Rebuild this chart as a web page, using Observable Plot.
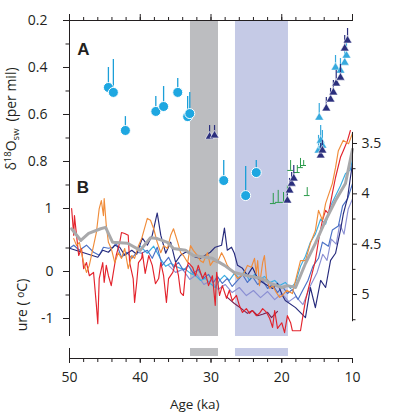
<!DOCTYPE html>
<html><head><meta charset="utf-8">
<script src="https://cdn.jsdelivr.net/npm/d3@7"></script>
<script src="https://cdn.jsdelivr.net/npm/@observablehq/plot@0.6"></script>
<style>body{margin:0;background:#fff}</style>
</head><body><div id="chart"></div>
<script>
// ---------- Panel A: δ18Osw (per mil) ----------
const circleAge = [44.5, 43.8, 42.1, 37.8, 36.7, 34.7, 33.3, 33.0, 28.2, 25.1, 23.6];
const circleVal = [0.485, 0.506, 0.668, 0.587, 0.566, 0.506, 0.609, 0.596, 0.881, 0.945, 0.847];
const circleTop = [0.40, 0.366, 0.609, 0.523, 0.481, 0.447, 0.523, 0.506, 0.796, 0.821, 0.796];

const navyTriAge = [30.2, 29.5, 19.2, 18.9, 18.6, 18.3, 14.5, 14.25, 13.7, 13.1, 12.7, 12.3, 11.7, 11.1, 10.7];
const navyTriVal = [0.694, 0.689, 0.966, 0.923, 0.894, 0.872, 0.774, 0.753, 0.574, 0.536, 0.506, 0.468, 0.443, 0.319, 0.285];
const navyTriTop = [0.647, 0.647, 0.923, 0.872, 0.847, 0.817, 0.723, 0.711, 0.528, 0.489, 0.455, 0.413, 0.387, 0.264, 0.234];

const cyanTriAge = [14.8, 14.7, 14.5, 14.25, 12.4, 11.7, 11.1, 10.85];
const cyanTriVal = [0.753, 0.613, 0.711, 0.732, 0.40, 0.413, 0.379, 0.349];
const cyanTriTop = [0.689, 0.553, 0.647, 0.668, 0.349, 0.362, 0.319, 0.294];

const greenAge = [21.2, 20.5, 19.75, 19.2, 18.75, 17.8, 17.35, 16.9, 16.4];
const greenVal = [0.979, 0.974, 0.974, 0.966, 0.838, 0.847, 0.826, 0.817, 0.945];
const greenTop = [0.936, 0.923, 0.932, 0.902, 0.796, 0.817, 0.787, 0.796, 0.911];

// ---------- Panel B: temperature anomaly (°C, left axis) ----------
const redT = [[49.7,1.34],[49.4,0.77],[49.3,1.19],[48.7,0.34],[48.3,0.49],[48.0,0.06],[47.6,0.19],[47.2,-0.09],[46.6,-0.02],[46.2,-0.72],[46.0,-1.11],[45.8,-0.15],[45.3,0.19],[45.1,-0.23],[44.8,0.13],[44.5,-0.09],[44.1,-0.30],[43.8,-0.02],[43.4,0.34],[42.9,0.62],[42.65,0.83],[42.2,0.81],[41.7,0.77],[41.5,0.19],[41.0,-0.15],[40.8,-0.66],[40.5,-0.23],[40.25,0.19],[39.8,0.28],[39.7,0.40],[39.3,-0.04],[38.8,0.34],[38.3,0.13],[37.85,-0.26],[37.4,-0.15],[37.1,0.19],[36.7,-0.09],[36.3,-0.66],[36.0,-0.15],[35.4,-0.02],[35.0,0.19],[34.6,-0.09],[34.3,-0.45],[33.9,-0.51],[33.6,-0.02],[33.2,0.19],[32.6,0.09],[32.2,-0.09],[31.8,0.13],[31.2,-0.15],[30.8,-0.02],[30.35,-0.30],[29.8,-0.09],[29.4,-0.72],[29.2,-0.02],[28.8,-0.51],[28.4,-0.30],[27.8,-0.57],[27.4,-0.40],[27.0,-0.62],[26.4,-0.51],[26.0,-0.72],[25.55,-0.87],[25.0,-0.79],[24.55,-0.89],[24.15,-0.83],[23.6,-0.94],[23.15,-0.89],[22.7,-0.79],[22.15,-0.87],[21.7,-1.0],[21.3,-1.19],[21.0,-0.83],[20.6,-1.21],[20.0,-1.09],[19.6,-1.30],[19.2,-0.94],[18.75,-1.09],[18.5,-1.26],[17.35,-1.26],[17.05,-0.98],[16.65,-0.62],[15.95,-0.19],[15.25,0.23],[14.8,0.66],[14.25,1.09],[13.8,1.30],[13.4,1.23],[12.85,1.66],[12.4,2.0],[11.7,2.43],[11.3,2.57],[10.7,2.79],[10.3,3.0]];

const orangeT = [[49.4,0.70],[49.0,0.55],[48.6,0.62],[48.0,0.19],[47.6,-0.02],[47.2,0.13],[46.6,0.55],[46.2,0.83],[45.8,1.34],[45.5,1.51],[45.2,1.19],[45.1,1.55],[44.8,0.98],[44.5,0.62],[44.1,0.49],[43.6,0.19],[43.1,0.40],[42.65,0.28],[42.2,0.49],[41.7,0.06],[41.2,0.34],[40.8,0.28],[40.25,0.55],[39.8,0.70],[39.0,1.13],[38.55,1.09],[38.1,0.91],[37.6,0.62],[37.1,0.40],[36.7,0.55],[36.15,0.49],[35.7,0.77],[35.3,0.91],[34.7,0.62],[34.3,0.40],[33.9,0.34],[33.3,0.19],[32.9,0.55],[32.5,0.45],[31.9,0.34],[31.5,0.23],[31.1,0.19],[30.5,0.40],[30.1,0.13],[29.65,0.23],[29.1,0.19],[28.5,0.40],[28.1,0.28],[27.7,0.13],[27.1,0.02],[26.7,-0.04],[26.25,-0.15],[25.7,-0.09],[25.3,-0.02],[24.85,0.13],[24.3,0.09],[23.85,0.28],[23.6,-0.04],[23.4,0.23],[23.15,-0.30],[22.7,0.19],[22.45,0.34],[22.15,-0.15],[21.7,-0.36],[21.3,-0.30],[20.75,-0.45],[20.3,-0.55],[19.9,-0.51],[19.3,-0.40],[18.5,-0.47],[18.05,-0.19],[17.35,0.23],[16.65,0.23],[15.95,0.60],[15.25,0.87],[14.8,1.30],[14.25,1.09],[13.8,1.45],[12.85,1.87],[12.4,2.21],[12.0,2.57],[11.3,2.79],[10.55,2.72],[10.0,2.94]];

const grayT = [[49.7,0.91],[48.4,0.66],[47.3,0.81],[45.6,0.91],[44.9,0.94],[43.9,0.62],[41.8,0.60],[40.0,0.45],[38.55,0.72],[37.6,0.70],[36.15,0.62],[35.3,0.49],[33.6,0.45],[32.5,0.34],[29.8,0.28],[28.1,0.13],[26.7,-0.02],[24.85,-0.09],[22.85,-0.15],[21.45,-0.26],[20.0,-0.34],[19.2,-0.30],[18.05,-0.34],[16.65,0.17],[15.25,0.60],[13.8,1.09],[12.4,1.51],[11.0,1.87],[10.0,2.6]];

const maroonT = [[27.7,-0.55],[26.7,-0.68],[25.7,-0.79],[24.85,-0.89],[24.15,-0.83],[23.4,-0.94],[22.7,-0.91],[22.0,-0.87],[21.45,-0.98],[20.6,-0.85]];

// ---------- Panel B: benthic δ18O (right axis, reversed) ----------
const navyB = [[50.0,4.54],[46.0,4.63],[45.3,4.56],[44.5,4.58],[43.6,4.51],[42.9,4.53],[42.2,4.61],[41.2,4.56],[40.5,4.60],[39.7,4.44],[39.0,4.51],[38.3,4.41],[37.6,4.19],[37.1,4.41],[36.4,4.59],[35.7,4.48],[35.0,4.68],[34.3,4.61],[33.6,4.58],[32.9,4.59],[32.2,4.63],[31.5,4.64],[30.8,4.61],[30.1,4.58],[29.4,4.53],[28.5,4.51],[28.1,4.34],[27.7,4.56],[27.1,4.53],[26.7,4.59],[26.25,4.71],[25.55,4.74],[24.85,4.81],[24.15,4.73],[23.4,4.84],[22.7,4.88],[22.0,4.91],[21.3,4.94],[20.6,4.89],[19.9,5.01],[19.5,5.06],[18.05,5.13],[16.65,5.23],[15.95,4.93],[15.25,5.13],[14.5,4.86],[13.8,4.93],[13.1,4.66],[12.4,4.59],[11.7,4.36],[11.3,4.20],[10.7,4.04],[10.3,3.84],[10.0,3.70]];

const blueB = [[50.0,4.54],[49.4,4.51],[48.6,4.56],[47.6,4.51],[46.6,4.58],[45.8,4.61],[45.2,4.53],[44.5,4.54],[43.8,4.53],[43.4,4.49],[42.65,4.63],[41.9,4.58],[41.2,4.64],[40.5,4.58],[39.8,4.59],[39.0,4.56],[38.3,4.64],[37.6,4.53],[36.9,4.71],[36.0,4.63],[35.3,4.73],[34.6,4.68],[33.9,4.76],[33.2,4.71],[32.5,4.79],[31.8,4.75],[31.1,4.84],[30.35,4.80],[29.65,4.88],[29.1,4.82],[28.4,4.89],[27.7,4.84],[27.0,4.92],[26.25,4.86],[25.55,4.80],[24.85,4.88],[24.15,4.82],[23.4,4.90],[22.7,4.86],[22.0,4.94],[21.3,4.90],[20.6,4.98],[19.9,4.92],[19.2,4.99],[18.5,4.95],[17.7,5.05],[17.05,4.96],[16.3,4.86],[15.6,4.72],[14.8,4.64],[14.25,4.48],[13.4,4.52],[12.85,4.36],[12.0,4.32],[11.4,4.12],[10.7,4.05],[10.0,3.90]];

const lightBlueB = [[40.0,4.52],[39.0,4.59],[38.1,4.52],[37.1,4.65],[36.4,4.72],[35.7,4.69],[35.0,4.72],[34.3,4.74],[33.6,4.75],[32.9,4.79],[32.2,4.81],[31.5,4.86],[30.8,4.84],[30.1,4.89],[29.4,4.93],[28.8,4.86],[28.1,4.81],[27.4,4.86],[26.7,4.79],[26.0,4.84],[25.3,4.77],[24.55,4.86],[23.85,4.80],[23.15,4.85],[22.45,4.82],[21.7,4.88],[21.0,4.86],[20.3,4.91],[19.5,4.88],[18.75,4.94],[18.05,4.88],[17.35,4.72],[16.65,4.62],[15.95,4.48],[15.25,4.40],[14.5,4.25],[13.8,4.30],[13.1,4.12],[12.4,4.02],[11.7,3.92],[11.0,3.80],[10.3,3.76],[10.0,3.65]];

const lavenderB = [[36.0,4.71],[35.0,4.78],[34.0,4.75],[33.0,4.85],[32.0,4.80],[31.0,4.90],[30.0,4.86],[29.0,4.95],[28.0,4.90],[27.0,4.98],[26.0,4.93],[25.0,5.01],[24.0,4.96],[23.0,5.03],[22.0,4.97],[21.0,5.05],[20.0,4.99],[19.0,5.07],[18.0,5.02],[17.0,5.10],[16.0,4.92],[15.0,4.78],[14.2,4.60],[13.6,4.66],[13.0,4.45],[12.3,4.50],[11.8,4.30],[11.2,4.40],[10.6,4.15],[10.0,4.05]];

// ---------- shaded intervals (ka) ----------
const bandStart = [32.9, 26.54];
const bandEnd = [28.94, 19.05];

// ---------- axis ticks & labels ----------
const ageMinor = d3.range(10, 51, 2);
const ageMajor = [50, 40, 30, 20, 10];
const aMajor = [0.2, 0.4, 0.6, 0.8];
const aMinor = [0.3, 0.5, 0.7, 0.9];
const tMajor = [0, -1];
const tMinor = [0.5, -0.5];
const bMajor = [3.5, 4, 4.5, 5];
const bMajorLabels = ["3.5", "4", "4.5", "5"];
const bMinor = [3.75, 4.25, 4.75, 5.25];

// Shared vertical coordinate = δ18Osw scale of panel A (0.2 at top)
const yMax = 1.6383, panelBottom = 1.5447, stripTop = 1.5957, stripBottom = 1.6298;
// temperature and benthic δ18O are placed onto the shared axis
const tToY = t => 1.2681 - 0.2 * t;
const yToT = y => (1.2681 - y) / 0.2;
const bToY = b => 0.7234 + 0.4285 * (b - 3.5);

const ink = "#231f20";
const rows = (ages, vals, tops) => ages.map((a, i) => ({age: a, v: vals[i], top: tops[i]}));
const circles = rows(circleAge, circleVal, circleTop);
const navyTri = rows(navyTriAge, navyTriVal, navyTriTop);
const cyanTri = rows(cyanTriAge, cyanTriVal, cyanTriTop);
const greens = rows(greenAge, greenVal, greenTop);

const tLine = (data, stroke, w = 1.15) => Plot.line(data, {x: d => d[0], y: d => tToY(d[1]), stroke, strokeWidth: w, strokeLinejoin: "round"});
const bLine = (data, stroke, w = 1.15) => Plot.line(data, {x: d => d[0], y: d => bToY(d[1]), stroke, strokeWidth: w, strokeLinejoin: "round"});
const bLabelMap = new Map(bMajor.map((b, k) => [bToY(b), bMajorLabels[k]]));

const chart = Plot.plot({
  width: 395, height: 414,
  marginLeft: 69, marginRight: 43, marginTop: 20, marginBottom: 56,
  style: {fontFamily: "'Open Sans', sans-serif", fontSize: "14px", color: ink, background: "#fff", overflow: "visible"},
  x: {domain: [50, 10]},
  y: {domain: [0.2, yMax], reverse: true},
  marks: [
    // shaded bands (main panel and bottom strip)
    Plot.rect([0], {x1: i => bandStart[0], x2: i => bandEnd[0], y1: () => 0.2, y2: () => panelBottom, fill: "#bcbdc0"}),
    Plot.rect([1], {x1: i => bandStart[1], x2: i => bandEnd[1], y1: () => 0.2, y2: () => panelBottom, fill: "#c5cae6"}),
    Plot.rect([0], {x1: i => bandStart[0], x2: i => bandEnd[0], y1: () => stripTop, y2: () => stripBottom, fill: "#bcbdc0"}),
    Plot.rect([1], {x1: i => bandStart[1], x2: i => bandEnd[1], y1: () => stripTop, y2: () => stripBottom, fill: "#c5cae6"}),

    // panel B curves
    bLine(lavenderB, "#8b8fd3"),
    bLine(lightBlueB, "#3aaee2"),
    bLine(blueB, "#4a70c6"),
    bLine(navyB, "#262a7c"),
    tLine(maroonT, "#7b2150"),
    tLine(redT, "#e3232c"),
    tLine(orangeT, "#f08c3a"),
    tLine(grayT, "#a9a9ab", 3),

    // panel A markers
    Plot.ruleX(greens, {x: "age", y1: "v", y2: "top", stroke: "#2a9a4a", strokeWidth: 1}),
    Plot.ruleY(greens, {y: "v", x1: d => d.age + 0.4, x2: d => d.age - 0.4, stroke: "#2a9a4a", strokeWidth: 1}),
    Plot.ruleX(cyanTri, {x: "age", y1: "v", y2: "top", stroke: "#36a9dd", strokeWidth: 1.2}),
    Plot.dot(cyanTri, {x: "age", y: "v", symbol: "triangle", r: 3.3, fill: "#36a9dd", stroke: "#fff", strokeWidth: 0.5}),
    Plot.ruleX(navyTri, {x: "age", y1: "v", y2: "top", stroke: "#2b2f7d", strokeWidth: 1.2}),
    Plot.dot(navyTri, {x: "age", y: "v", symbol: "triangle", r: 3.3, fill: "#2b2f7d", stroke: "#fff", strokeWidth: 0.6}),
    Plot.ruleX(circles, {x: "age", y1: "v", y2: "top", stroke: "#1b9fd8", strokeWidth: 1.3}),
    Plot.dot(circles, {x: "age", y: "v", r: 5, fill: "#1ea7e1", stroke: "#fff", strokeWidth: 1}),

    // axis lines
    Plot.ruleY([0.2], {stroke: ink}),
    Plot.ruleY([yMax], {stroke: ink}),
    Plot.ruleX([50], {y1: () => 0.2, y2: () => panelBottom, stroke: ink}),
    Plot.ruleX([50], {y1: () => stripTop, y2: () => yMax, stroke: ink}),
    Plot.ruleX([10], {y1: () => bToY(3.39), y2: () => bToY(5.27), stroke: ink}),

    // top age axis (ticks only)
    Plot.axisX({anchor: "top", ticks: ageMinor, tickSize: 4, tickFormat: () => "", label: null}),
    Plot.axisX({anchor: "top", ticks: ageMajor, tickSize: 7, tickFormat: () => "", label: null}),
    // bottom age axis
    Plot.axisX({anchor: "bottom", ticks: ageMinor, tickSize: 4, tickFormat: () => "", label: null}),
    Plot.axisX({anchor: "bottom", ticks: ageMajor, tickSize: 5, tickPadding: 9, tickFormat: d => String(d), label: null}),

    // left axis, panel A
    Plot.axisY({anchor: "left", ticks: aMinor, tickSize: 3.5, tickFormat: () => "", label: null}),
    Plot.axisY({anchor: "left", ticks: aMajor, tickSize: 6, tickPadding: 16, tickFormat: d => d.toFixed(1), label: null}),
    Plot.axisY({anchor: "left", ticks: [1.0], tickSize: 6, tickPadding: 11, tickFormat: () => "1", label: null}),
    // left axis, panel B (temperature)
    Plot.axisY({anchor: "left", ticks: tMinor.map(tToY), tickSize: 3.5, tickFormat: () => "", label: null}),
    Plot.axisY({anchor: "left", ticks: tMajor.map(tToY), tickSize: 6, tickPadding: 10, tickFormat: y => String(Math.round(yToT(y))), label: null}),
    // right axis (benthic δ18O)
    Plot.axisY({anchor: "right", ticks: bMinor.map(bToY), tickSize: 2.5, tickFormat: () => "", label: null}),
    Plot.axisY({anchor: "right", ticks: bMajor.map(bToY), tickSize: 4, tickPadding: 5, tickFormat: y => bLabelMap.get(y) ?? "", label: null}),

    // x-axis title
    Plot.text(["Age (ka)"], {x: () => 32.3, frameAnchor: "bottom", dy: 46, fontSize: 13.5, fill: ink, lineAnchor: "middle"})
  ]
});
document.getElementById("chart").appendChild(chart);

// panel letters and rotated y titles
const svg = d3.select(chart);
svg.append("text").attr("x", 83.5).attr("y", 55).attr("text-anchor", "middle")
  .attr("font-family", "'Liberation Sans', Arial, sans-serif").attr("font-weight", "bold").attr("font-size", 17).attr("fill", ink).text("A");
svg.append("text").attr("x", 83).attr("y", 193).attr("text-anchor", "middle")
  .attr("font-family", "'Liberation Sans', Arial, sans-serif").attr("font-weight", "bold").attr("font-size", 17).attr("fill", ink).text("B");

const t1 = svg.append("text").attr("transform", "translate(16,119) rotate(-90)").attr("text-anchor", "middle")
  .attr("font-family", "'Open Sans', sans-serif").attr("font-size", 14).attr("fill", ink);
t1.append("tspan").text("δ");
t1.append("tspan").attr("dy", -5).attr("font-size", 9.5).text("18");
t1.append("tspan").attr("dy", 5).text("O");
t1.append("tspan").attr("dy", 3).attr("font-size", 9.5).text("sw");
t1.append("tspan").attr("dy", -3).text("\u2002(per mil)");

const t2 = svg.append("text").attr("transform", "translate(27,305) rotate(-90)").attr("text-anchor", "middle")
  .attr("font-family", "'Open Sans', sans-serif").attr("font-size", 14).attr("fill", ink);
t2.append("tspan").text("ure ( ");
t2.append("tspan").attr("dy", -3).attr("font-size", 10).text("o");
t2.append("tspan").attr("dy", 3).text("C)");
</script></body></html>
